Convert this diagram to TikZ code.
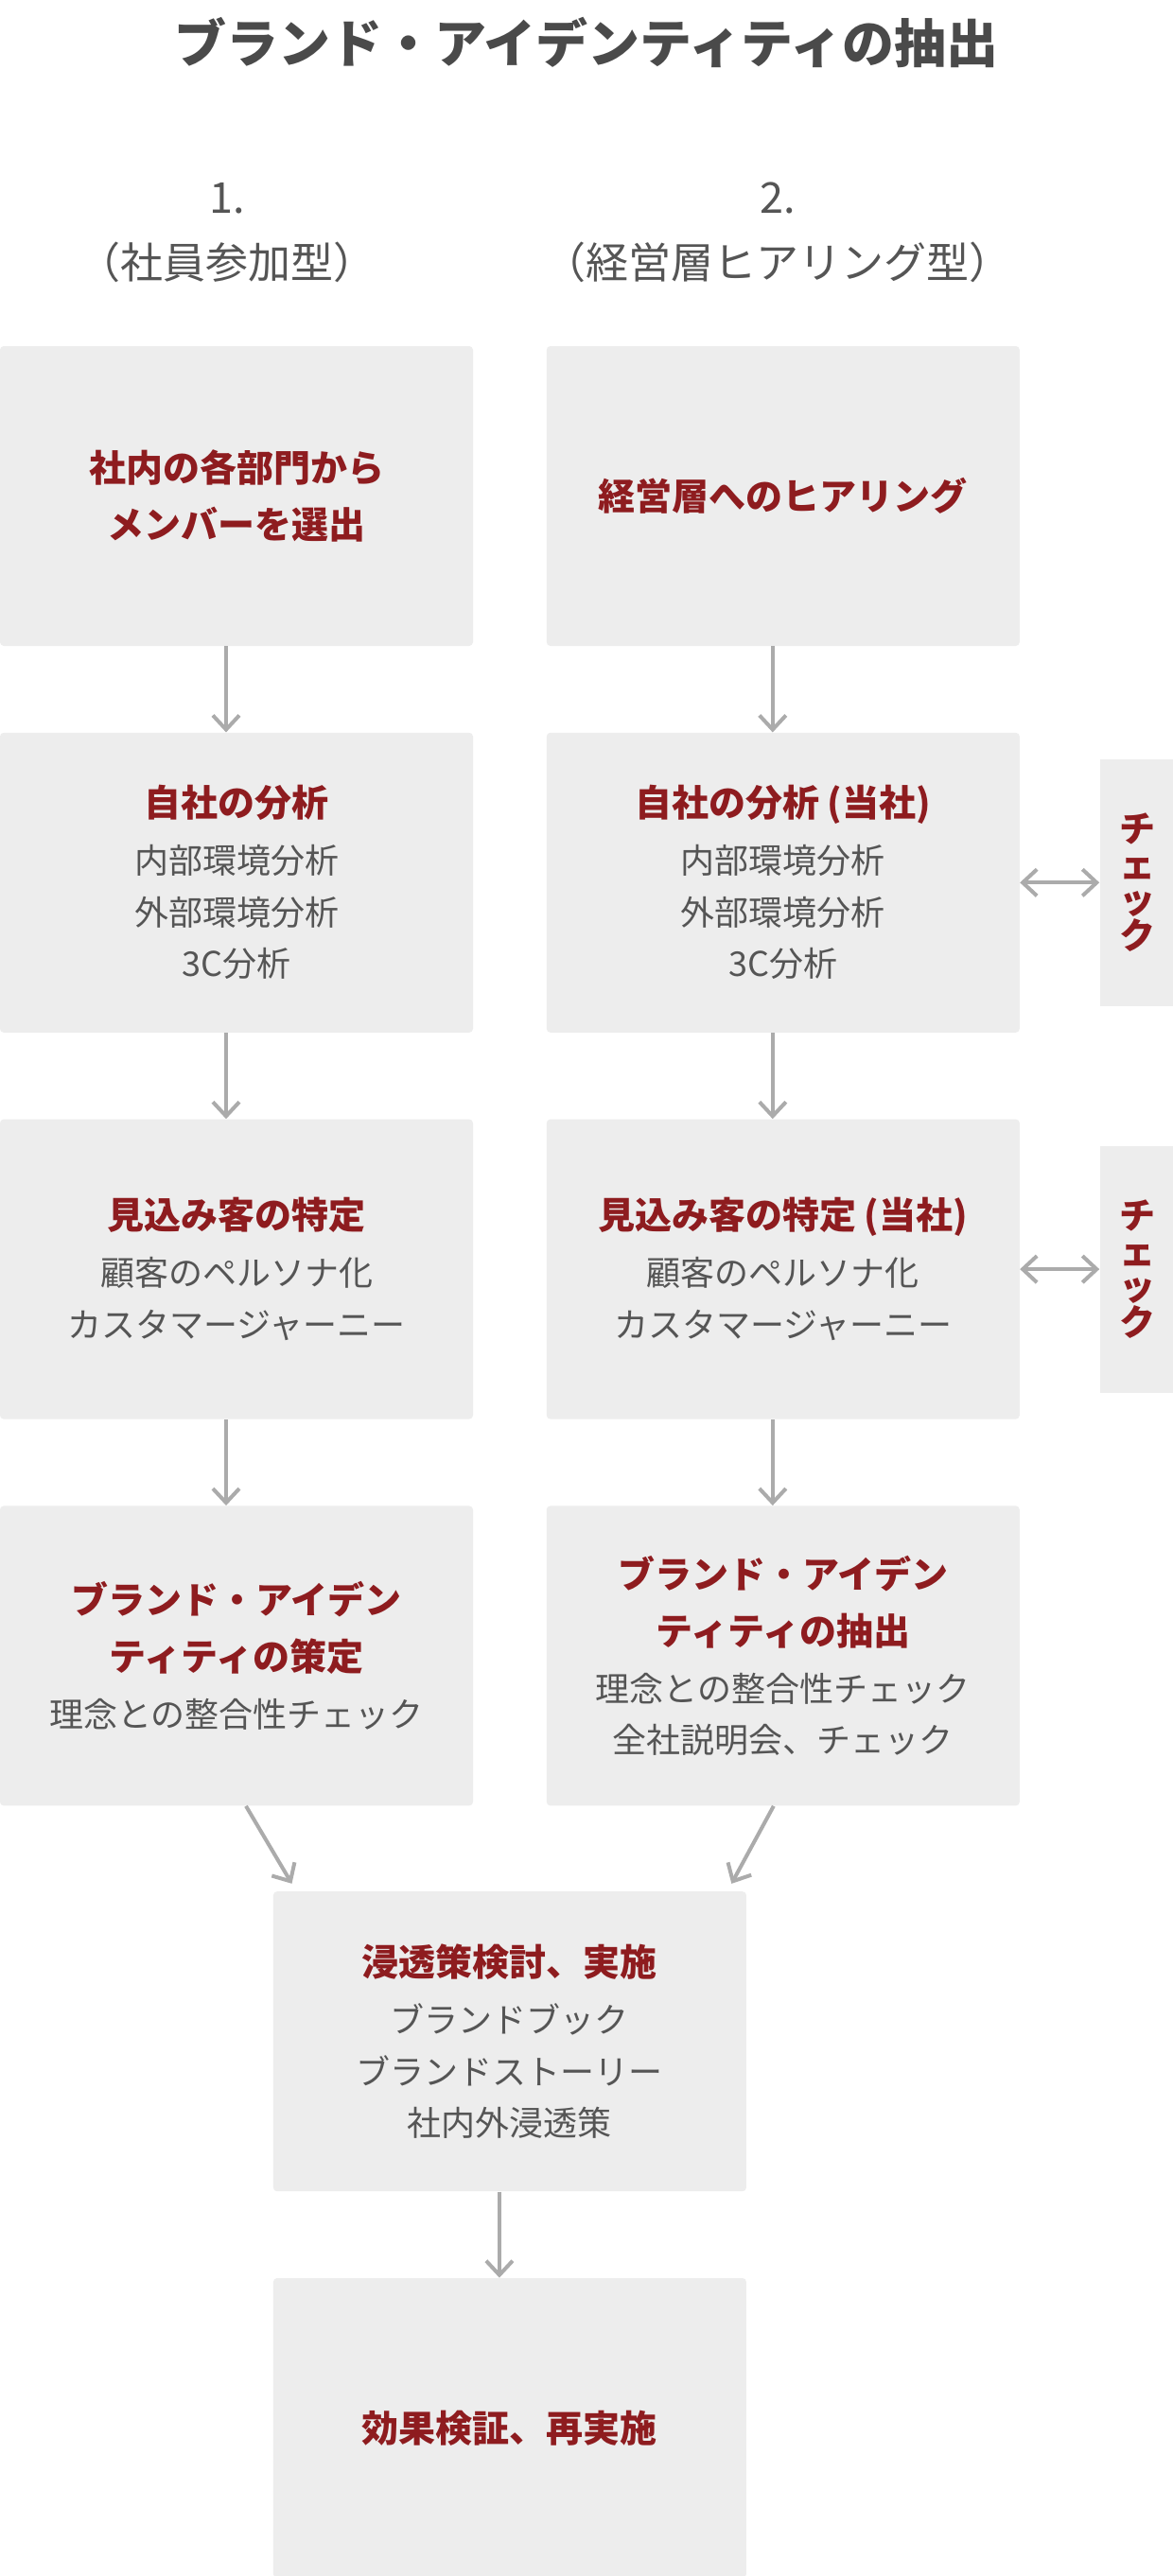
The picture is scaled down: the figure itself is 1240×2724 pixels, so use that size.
\documentclass[tikz,border=0pt]{standalone}
\usepackage{fontspec}
\setmainfont{Noto Sans CJK JP}
\usepackage{xcolor}
\usetikzlibrary{positioning, arrows.meta}

\definecolor{brandred}{HTML}{8E1C1F}
\definecolor{boxgray}{HTML}{EDEDED}
\definecolor{txtgray}{HTML}{555555}
\definecolor{titlegray}{HTML}{4A4A4A}
\definecolor{arrowgray}{HTML}{ABABAB}

% red bold heading line inside a box
\newcommand{\hd}[1]{{\fontsize{19.5pt}{30pt}\selectfont\bfseries\color{brandred}#1}}

\begin{document}
\begin{tikzpicture}[
  x=0.5pt, y=-0.5pt,
  >={Straight Barb[length=7.5pt,width=14pt]},
  box/.style={rectangle, fill=boxgray, rounded corners=2pt,
              minimum width=250pt, minimum height=158.5pt, inner sep=0pt,
              align=center, text=txtgray,
              font=\fontsize{18pt}{27.25pt}\selectfont},
  chkbox/.style={rectangle, fill=boxgray, minimum width=40pt,
                 minimum height=130.5pt, inner sep=0pt, align=center,
                 text=brandred, font=\fontsize{19pt}{18.75pt}\selectfont\bfseries},
  heading/.style={text=titlegray, font=\fontsize{27.5pt}{33pt}\selectfont\bfseries},
  colhead/.style={align=center, text=txtgray,
                  font=\fontsize{22.5pt}{34.5pt}\selectfont},
  flow/.style={draw=arrowgray, line width=2pt}
]
  \fill[white] (0,0) rectangle (1240,2724);
  \useasboundingbox (0,0) rectangle (1240,2724);

  \node[heading] (ttl) at (620,45) {ブランド・アイデンティティの抽出};
  \node[colhead] (col1) at (240,246) {1.\\（社員参加型）};
  \node[colhead] (col2) at (822,246) {2.\\（経営層ヒアリング型）};

  % left column
  \node[box] (sel) at (250,524.5) {\hd{社内の各部門から}\\[2.75pt]\hd{メンバーを選出}};
  \node[box, below=45.5pt of sel] (anaL)
    {\hd{自社の分析}\\[2.75pt]内部環境分析\\外部環境分析\\3C分析};
  \node[box, below=45.5pt of anaL] (tgtL)
    {\hd{見込み客の特定}\\[2.75pt]顧客のペルソナ化\\カスタマージャーニー};
  \node[box, below=45.5pt of tgtL] (idL)
    {\hd{ブランド・アイデン}\\[2.75pt]\hd{ティティの策定}\\[2.75pt]理念との整合性チェック};

  % right column
  \node[box, right=38.5pt of sel] (hear) {\hd{経営層へのヒアリング}};
  \node[box, below=45.5pt of hear] (anaR)
    {\hd{自社の分析\hspace{4pt}(当社)}\\[2.75pt]内部環境分析\\外部環境分析\\3C分析};
  \node[box, below=45.5pt of anaR] (tgtR)
    {\hd{見込み客の特定\hspace{4pt}(当社)}\\[2.75pt]顧客のペルソナ化\\カスタマージャーニー};
  \node[box, below=45.5pt of tgtR] (idR)
    {\hd{ブランド・アイデン}\\[2.75pt]\hd{ティティの抽出}\\[2.75pt]理念との整合性チェック\\全社説明会、チェック};

  \node[chkbox, right=42pt of anaR] (chk1) {チ\\ェ\\ッ\\ク};
  \node[chkbox, right=42pt of tgtR] (chk2) {チ\\ェ\\ッ\\ク};

  % joined part
  \path (idL.south) -- (idR.south) coordinate[midway] (mid);
  \node[box, below=45pt of mid] (pen)
    {\hd{浸透策検討、実施}\\[2.75pt]ブランドブック\\ブランドストーリー\\社内外浸透策};
  \node[box, below=45.5pt of pen] (eval) {\hd{効果検証、再実施}};

  % arrows
  \draw[flow, ->] ([xshift=-5.5pt]sel.south) -- ([xshift=-5.5pt]anaL.north);
  \draw[flow, ->] ([xshift=-5.5pt]anaL.south) -- ([xshift=-5.5pt]tgtL.north);
  \draw[flow, ->] ([xshift=-5.5pt]tgtL.south) -- ([xshift=-5.5pt]idL.north);
  \draw[flow, ->] ([xshift=-5.5pt]hear.south) -- ([xshift=-5.5pt]anaR.north);
  \draw[flow, ->] ([xshift=-5.5pt]anaR.south) -- ([xshift=-5.5pt]tgtR.north);
  \draw[flow, ->] ([xshift=-5.5pt]tgtR.south) -- ([xshift=-5.5pt]idR.north);
  \draw[flow, <->] (anaR.east) -- (chk1.west);
  \draw[flow, <->] (tgtR.east) -- (chk2.west);
  \draw[flow, ->] ([xshift=5pt]idL.south) -- ([xshift=10pt,yshift=4pt]pen.north west);
  \draw[flow, ->] ([xshift=-5pt]idR.south) -- ([xshift=-8pt,yshift=4pt]pen.north east);
  \draw[flow, ->] ([xshift=-5.5pt]pen.south) -- ([xshift=-5.5pt]eval.north);
\end{tikzpicture}
\end{document}
